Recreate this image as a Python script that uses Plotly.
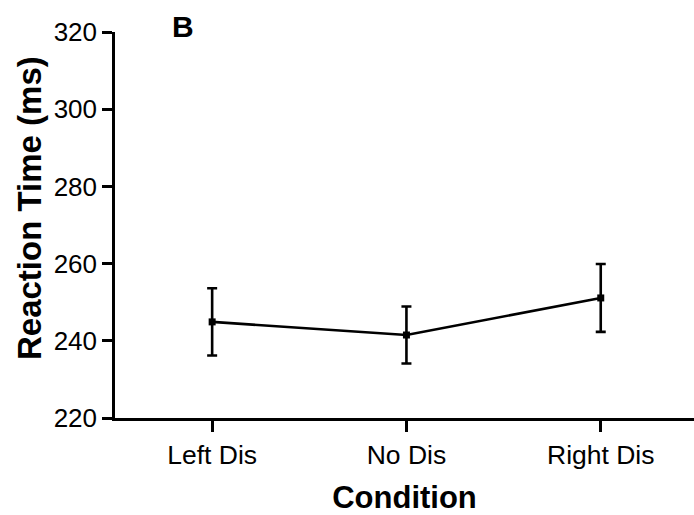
import plotly.graph_objects as go

conditions = ["Left Dis", "No Dis", "Right Dis"]
rt_mean = [244.9, 241.5, 251.1]
rt_err = [8.7, 7.4, 8.8]
y_ticks = [220, 240, 260, 280, 300, 320]

FONT = "Liberation Sans, Arial, Helvetica, sans-serif"

fig = go.Figure()
fig.add_trace(go.Scatter(
    x=conditions, y=rt_mean,
    mode="lines+markers",
    line=dict(color="black", width=2.6),
    marker=dict(symbol="square", size=7, color="black"),
    error_y=dict(type="data", array=rt_err, visible=True, color="black",
                 thickness=2.6, width=5),
    showlegend=False,
))

fig.update_layout(
    width=694, height=515,
    margin=dict(l=115, r=0, t=32, b=97),
    paper_bgcolor="white", plot_bgcolor="white",
    font=dict(family=FONT, color="black"),
    xaxis=dict(
        type="category", range=[-0.5, 2.48],
        showline=True, linecolor="black", linewidth=2.5,
        ticks="outside", ticklen=11, tickwidth=2.5, tickcolor="black",
        tickfont=dict(size=26.5, family=FONT),
        showgrid=False, zeroline=False,
        title=dict(text="<b>Condition</b>", font=dict(size=31, family=FONT), standoff=20),
    ),
    yaxis=dict(
        range=[220, 320], tickvals=y_ticks,
        showline=True, linecolor="black", linewidth=2.5,
        ticks="outside", ticklen=10, tickwidth=2.5, tickcolor="black",
        tickfont=dict(size=26, family=FONT),
        showgrid=False, zeroline=False,
    ),
    annotations=[
        dict(
            text="<b>B</b>", x=0.117, y=1.015, xref="paper", yref="paper",
            xanchor="center", yanchor="middle", showarrow=False,
            font=dict(size=30, family=FONT, color="black"),
        ),
        dict(
            text="<b>Reaction Time (ms)</b>", x=-0.1485, y=0.544,
            xref="paper", yref="paper", textangle=-90,
            xanchor="center", yanchor="middle", showarrow=False,
            font=dict(size=33, family=FONT, color="black"),
        ),
    ],
)

fig.write_html("out.html")
